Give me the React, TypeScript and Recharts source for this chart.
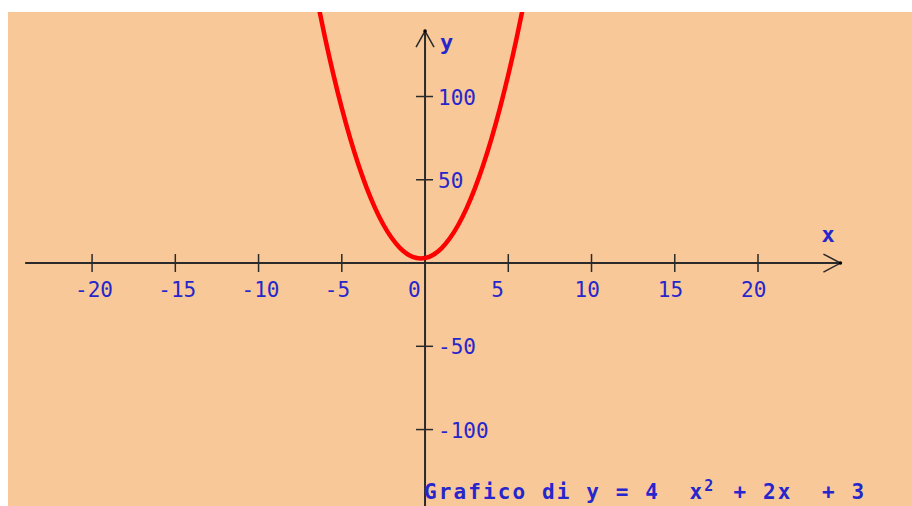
import { LineChart, Line, XAxis, YAxis, ReferenceLine, ReferenceDot } from 'recharts';

const valoriX = [-6.5, -6, -5.5, -5, -4.5, -4, -3.5, -3, -2.5, -2, -1.5, -1, -0.5, -0.25, 0, 0.5, 1, 1.5, 2, 2.5, 3, 3.5, 4, 4.5, 5, 5.5, 6];
const valoriY = [159, 135, 113, 93, 75, 59, 45, 33, 23, 15, 9, 5, 3, 2.75, 3, 5, 9, 15, 23, 33, 45, 59, 75, 93, 113, 135, 159];

const tickX = [-20, -15, -10, -5, 0, 5, 10, 15, 20];
const tickY = [100, 50, -50, -100];

const titolo = 'Grafico di y = 4  x';
const esponente = '2';
const resto = ' + 2x  + 3';

const dati = valoriX.map((x, i) => ({ x, y: valoriY[i] }));

const LARGHEZZA = 904;
const ALTEZZA = 494;
const SFONDO = '#f8c899';
const BLU = '#2626cc';
const ASSE = '#2a2a2a';
const FONT = '"DejaVu Sans Mono", monospace';

function App() {
    // tacca e etichetta sull'asse x
    const tacchettaX = (t: number) => (p: any) => (
        <g>
            {t !== 0 && <line x1={p.cx} y1={p.cy - 9} x2={p.cx} y2={p.cy + 9} stroke={ASSE} strokeWidth={1.5} />}
            <text x={p.cx - 17} y={p.cy + 34} fill={BLU} fontSize={21} fontFamily={FONT}>
                {t}
            </text>
        </g>
    );

    const tacchettaY = (t: number) => (p: any) => (
        <g>
            <line x1={p.cx - 9} y1={p.cy} x2={p.cx + 8} y2={p.cy} stroke={ASSE} strokeWidth={1.5} />
            <text x={p.cx + 13} y={p.cy + 8} fill={BLU} fontSize={21} fontFamily={FONT}>
                {t}
            </text>
        </g>
    );

    const frecciaY = (p: any) => (
        <g>
            <polyline
                points={`${p.cx - 9},${p.cy + 16} ${p.cx},${p.cy} ${p.cx + 9},${p.cy + 16}`}
                fill="none"
                stroke={ASSE}
                strokeWidth={1.5}
            />
            <circle cx={p.cx} cy={p.cy} r={1.8} fill="#000" />
            <text x={p.cx + 15} y={p.cy + 19} fill={BLU} fontSize={22} fontWeight="bold" fontFamily={FONT}>
                y
            </text>
        </g>
    );

    const frecciaX = (p: any) => (
        <g>
            <polyline
                points={`${p.cx - 17},${p.cy - 9} ${p.cx},${p.cy} ${p.cx - 17},${p.cy + 9}`}
                fill="none"
                stroke={ASSE}
                strokeWidth={1.5}
            />
            <circle cx={p.cx} cy={p.cy} r={1.8} fill="#000" />
            <text x={p.cx - 19} y={p.cy - 21} fill={BLU} fontSize={22} fontWeight="bold" fontFamily={FONT}>
                x
            </text>
        </g>
    );

    return (
        <div
            style={{
                position: 'absolute',
                left: 8,
                top: 12,
                width: LARGHEZZA,
                height: ALTEZZA,
                background: SFONDO,
            }}
        >
            <LineChart width={LARGHEZZA} height={ALTEZZA} data={dati} margin={{ top: 0, right: 0, bottom: 0, left: 0 }}>
                <XAxis dataKey="x" type="number" domain={[-25.05, 29.25]} allowDataOverflow hide />
                <YAxis type="number" domain={[-145.9, 150.75]} allowDataOverflow hide />
                <ReferenceLine
                    segment={[{ x: -24.02, y: 0 }, { x: 24.95, y: 0 }]}
                    stroke={ASSE}
                    strokeWidth={2}
                    ifOverflow="visible"
                />
                <ReferenceLine
                    segment={[{ x: 0, y: -145.9 }, { x: 0, y: 139.3 }]}
                    stroke={ASSE}
                    strokeWidth={2}
                    ifOverflow="visible"
                />
                {tickX.map((t) => (
                    <ReferenceDot key={'x' + t} x={t} y={0} r={0} shape={tacchettaX(t)} />
                ))}
                {tickY.map((t) => (
                    <ReferenceDot key={'y' + t} x={0} y={t} r={0} shape={tacchettaY(t)} />
                ))}
                <ReferenceDot x={0} y={139.3} r={0} shape={frecciaY} />
                <ReferenceDot x={24.95} y={0} r={0} shape={frecciaX} />
                <Line
                    type="monotone"
                    dataKey="y"
                    stroke="#ff0000"
                    strokeWidth={4.5}
                    dot={false}
                    isAnimationActive={false}
                />
            </LineChart>
            <div
                style={{
                    position: 'absolute',
                    left: 416,
                    top: 468,
                    fontFamily: FONT,
                    fontSize: 21,
                    fontWeight: 'bold',
                    letterSpacing: 2.1,
                    color: BLU,
                    whiteSpace: 'pre',
                    lineHeight: '24px',
                }}
            >
                {titolo}
                <span
                    style={{
                        display: 'inline-block',
                        width: 14.7,
                        fontSize: 15,
                        letterSpacing: 0,
                        position: 'relative',
                        top: -8,
                    }}
                >
                    {esponente}
                </span>
                {resto}
            </div>
        </div>
    );
}

export default App;
